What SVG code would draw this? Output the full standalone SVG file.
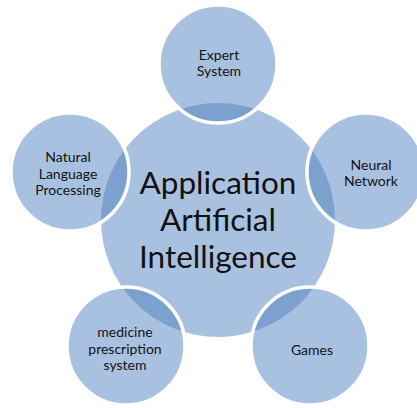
<svg xmlns="http://www.w3.org/2000/svg" xmlns:xlink="http://www.w3.org/1999/xlink" width="417" height="408" viewBox="0 0 417 408">
  <style>
    .fill { fill: #A9C1E0; }
    .overlap { fill: #7DA1CE; }
    .rim { fill: none; stroke: #FFFFFF; stroke-width: 3.5; }
    .label { font-family: Lato, "Liberation Sans", sans-serif; font-size: 14px; fill: #111111; text-anchor: middle; }
    .title { font-family: Lato, "Liberation Sans", sans-serif; font-size: 31.5px; fill: #111111; text-anchor: middle; }
  </style>
  <defs>
    <circle id="hub" cx="218" cy="220" r="117"/>
    <clipPath id="clip-expert"><circle cx="218" cy="64" r="59"/></clipPath>
    <clipPath id="clip-nlp"><circle cx="70" cy="172" r="59"/></clipPath>
    <clipPath id="clip-neural"><circle cx="366" cy="172" r="59"/></clipPath>
    <clipPath id="clip-medicine"><circle cx="126" cy="346" r="59"/></clipPath>
    <clipPath id="clip-games"><circle cx="310" cy="346" r="59"/></clipPath>
  </defs>

  <!-- central hub -->
  <g id="center">
    <use xlink:href="#hub" class="fill"/>
  </g>

  <!-- satellites: each overlaps the hub; the shared lens is shaded darker -->
  <g id="expert-system">
    <circle cx="218" cy="64" r="59" class="fill"/>
    <use xlink:href="#hub" class="overlap" clip-path="url(#clip-expert)"/>
    <circle cx="218" cy="64" r="59" class="rim"/>
    <text class="label" x="219" y="60">Expert</text>
    <text class="label" x="219" y="76">System</text>
  </g>

  <g id="natural-language-processing">
    <circle cx="70" cy="172" r="59" class="fill"/>
    <use xlink:href="#hub" class="overlap" clip-path="url(#clip-nlp)"/>
    <circle cx="70" cy="172" r="59" class="rim"/>
    <text class="label" x="68" y="162">Natural</text>
    <text class="label" x="68" y="178.5">Language</text>
    <text class="label" x="68" y="195">Processing</text>
  </g>

  <g id="neural-network">
    <circle cx="366" cy="172" r="59" class="fill"/>
    <use xlink:href="#hub" class="overlap" clip-path="url(#clip-neural)"/>
    <circle cx="366" cy="172" r="59" class="rim"/>
    <text class="label" x="371" y="170">Neural</text>
    <text class="label" x="371" y="186">Network</text>
  </g>

  <g id="medicine-prescription-system">
    <circle cx="126" cy="346" r="59" class="fill"/>
    <use xlink:href="#hub" class="overlap" clip-path="url(#clip-medicine)"/>
    <circle cx="126" cy="346" r="59" class="rim"/>
    <text class="label" x="125" y="337">medicine</text>
    <text class="label" x="125" y="354">prescription</text>
    <text class="label" x="125" y="370">system</text>
  </g>

  <g id="games">
    <circle cx="310" cy="346" r="59" class="fill"/>
    <use xlink:href="#hub" class="overlap" clip-path="url(#clip-games)"/>
    <circle cx="310" cy="346" r="59" class="rim"/>
    <text class="label" x="312" y="355">Games</text>
  </g>

  <!-- hub caption on top -->
  <g id="center-label">
    <text class="title" x="218" y="194">Application</text>
    <text class="title" x="218" y="231">Artificial</text>
    <text class="title" x="218" y="268">Intelligence</text>
  </g>
</svg>
